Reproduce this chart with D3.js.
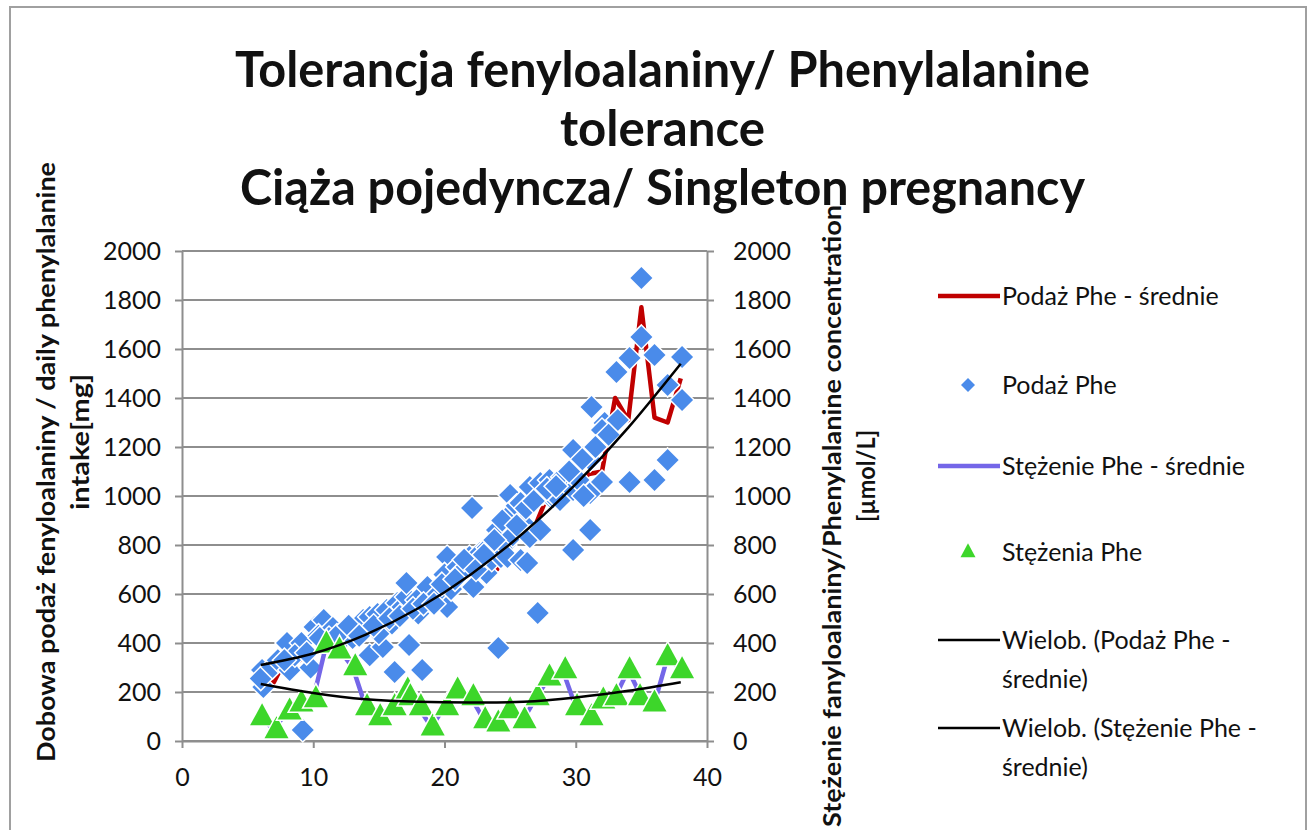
<!DOCTYPE html>
<html><head><meta charset="utf-8">
<script src="https://cdn.jsdelivr.net/npm/d3@7"></script>
<style>
body{margin:0;background:#fff}
svg{display:block}
text{font-family:Lato,"Open Sans",sans-serif;fill:#111}
</style>
</head><body>
<svg id="chart" width="1314" height="830"></svg>
<script>
// ---------- data ----------
const titleLines = ["Tolerancja fenyloalaniny/ Phenylalanine", "tolerance", "Ciąża pojedyncza/ Singleton pregnancy"];
const yTitleLeft = ["Dobowa podaż fenyloalaniny / daily phenylalanine", "intake[mg]"];
const yTitleRight = ["Stężenie fanyloalaniny/Phenylalanine concentration", "[µmol/L]"];
const xTicks = [0, 10, 20, 30, 40];
const yTicks = [0, 200, 400, 600, 800, 1000, 1200, 1400, 1600, 1800, 2000];

const weeks = [6,7,8,9,10,11,12,13,14,15,16,17,18,19,20,21,22,23,24,25,26,27,28,29,30,31,32,33,34,35,36,37,38];
const podazMean = [255,240,345,330,420,440,420,440,450,470,470,540,500,610,660,700,770,740,700,860,830,890,1020,1020,1040,1090,1100,1400,1310,1770,1320,1300,1480];
const stezMean  = [98,45,122,155,172,395,371,302,139,98,139,194,139,57,139,208,180,86,73,127,86,180,261,290,139,98,167,180,290,180,155,343,290];

const podazX = [6.1,6.2,6.0,6.9,7.3,8.0,8.2,9.1,9.2,9.8,10.1,10.8,10.4,11.5,11.2,12.3,12.0,13.3,13.0,13.8,14.3,14.3,14.9,15.3,15.6,15.0,16.4,16.8,16.2,16.0,17.1,17.1,17.3,17.9,18.3,18.0,18.9,18.7,19.5,20.2,20.2,20.0,20.5,21.0,21.3,21.9,22.1,22.2,22.7,23.2,23.3,23.6,24.0,24.1,24.3,24.6,25.0,24.8,24.8,25.2,25.5,25.8,26.0,25.8,26.3,26.5,26.5,27.3,27.3,27.1,27.5,28.0,28.0,28.3,29.0,29.3,28.8,29.8,29.8,29.8,30.2,31.2,31.1,31.1,31.1,32.2,32.0,32.0,33.1,33.2,34.1,34.1,35.0,35.0,36.0,36.0,37.0,37.0,38.1,38.1,
  8.6,10.5,11.8,12.7,13.5,14.6,15.8,16.6,17.6,18.4,19.2,19.8,20.8,21.5,22.4,23.0,23.8,24.4,25.5,26.2,26.8,27.8,28.5,29.5,30.5,31.5,32.5,30.6,9.5,7.8];
const podazY = [290,220,255,302,330,400,290,400,45,300,465,494,430,461,420,441,400,465,420,494,506,350,518,384,535,440,563,547,282,480,588,645,392,576,290,520,588,629,600,751,547,680,620,710,690,751,951,629,767,686,790,740,861,380,751,800,1004,914,751,840,960,971,890,739,727,833,1037,1053,861,522,1012,1065,1000,996,1078,1012,984,1188,780,1024,1065,1363,1147,861,1012,1298,1269,1057,1506,1310,1563,1057,1890,1649,1576,1065,1453,1147,1567,1392,
  350,420,430,470,430,470,500,510,540,560,560,640,660,740,700,760,820,900,880,950,980,1030,1040,1100,1150,1200,1250,1000,360,330];

const stezX = [6.1,7.2,8.2,9.1,10.2,11.0,12.0,13.2,14.1,15.1,16.2,17.2,17.4,18.2,19.1,20.2,21.0,22.2,23.1,24.1,25.0,26.1,27.1,28.0,29.2,30.1,31.2,32.1,33.1,34.1,34.9,36.0,37.0,38.1];
const stezY = [98,45,122,155,172,395,371,302,139,98,139,208,180,139,57,139,208,180,86,73,127,86,180,261,290,139,98,167,180,290,180,155,343,290];

const trendX = [6,10,14,18,22,26,30,34,38];
const trendPodaz = [310,357,434,542,680,849,1048,1279,1540];
const trendStez = [233,196,170,160,157,160,178,205,240];

const legendLabels = [["Podaż Phe - średnie"],["Podaż Phe"],["Stężenie Phe - średnie"],["Stężenia Phe"],["Wielob. (Podaż Phe -","średnie)"],["Wielob. (Stężenie Phe -","średnie)"]];

// ---------- drawing ----------
const svg = d3.select("#chart");
const pL = 182, pR = 707, pT = 251, pB = 741;
const RED = "#C00000", BLUE = "#4A8BEA", PURPLE = "#7466E8", GREEN = "#3DD62A", GRID = "#8e8e8e";

svg.append("rect").attr("x",10).attr("y",7).attr("width",1296).attr("height",840)
  .attr("fill","#fff").attr("stroke","#a0a0a0").attr("stroke-width",2);

const x = d3.scaleLinear().domain([0,40]).range([pL,pR]);
const y = d3.scaleLinear().domain([0,2000]).range([pB,pT]);

// title
const tLeft = [235,560,240], tW = [855,205,845], tBase = [87,146,205];
titleLines.forEach((t,i)=>{
  svg.append("text").attr("x",tLeft[i]).attr("y",tBase[i]).text(t)
    .attr("font-size",49).attr("font-weight","bold")
    .attr("textLength",tW[i]).attr("lengthAdjust","spacingAndGlyphs");
});

// gridlines
svg.append("g").selectAll("line").data(yTicks).join("line")
  .attr("x1",pL).attr("x2",pR).attr("y1",d=>y(d)).attr("y2",d=>y(d))
  .attr("stroke",GRID).attr("stroke-width",2);

// axes
function styleAxis(g){
  g.select(".domain").attr("stroke",GRID).attr("stroke-width",2);
  g.selectAll(".tick line").attr("stroke",GRID).attr("stroke-width",2);
  g.selectAll(".tick text").attr("font-size",25).attr("fill","#111").attr("font-family","Lato, sans-serif");
}
svg.append("g").attr("transform",`translate(${pL},0)`)
  .call(d3.axisLeft(y).tickValues(yTicks).tickSize(7).tickSizeOuter(0).tickPadding(14).tickFormat(d3.format("d")))
  .call(styleAxis);
svg.append("g").attr("transform",`translate(${pR},0)`)
  .call(d3.axisRight(y).tickValues(yTicks).tickSize(7).tickSizeOuter(0).tickPadding(19).tickFormat(d3.format("d")))
  .call(styleAxis);
svg.append("g").attr("transform",`translate(0,${pB})`)
  .call(d3.axisBottom(x).tickValues(xTicks).tickSize(7).tickSizeOuter(0).tickPadding(20).tickFormat(d3.format("d")))
  .call(styleAxis);

// axis titles
function vtext(cx, cy, txt, len){
  svg.append("text").attr("transform",`translate(${cx},${cy}) rotate(-90)`)
    .attr("x",-len/2).attr("y",0).attr("dy","0.36em").text(txt)
    .attr("font-size",25).attr("font-weight","bold")
    .attr("textLength",len).attr("lengthAdjust","spacingAndGlyphs");
}
vtext(46,462,yTitleLeft[0],600);
vtext(80,442,yTitleLeft[1],136);
vtext(832,516,yTitleRight[0],622);
vtext(866,476,yTitleRight[1],92);

// series
const line = d3.line().x(d=>x(d[0])).y(d=>y(d[1]));
const plot = svg.append("g");

plot.append("path").datum(weeks.map((w,i)=>[w,podazMean[i]]))
  .attr("d",line).attr("fill","none").attr("stroke",RED).attr("stroke-width",4.5).attr("stroke-linejoin","round");

const dia = r => `M0,${-r}L${r},0L0,${r}L${-r},0Z`;
const tri = (w,h) => `M0,${-h*0.62}L${w/2},${h*0.38}L${-w/2},${h*0.38}Z`;

plot.append("g").selectAll("path").data(podazX.map((v,i)=>[v,podazY[i]])).join("path")
  .attr("d",dia(11)).attr("transform",d=>`translate(${x(d[0])},${y(d[1])})`)
  .attr("fill",BLUE).attr("stroke","#fff").attr("stroke-width",3).style("paint-order","stroke");

plot.append("path").datum(weeks.map((w,i)=>[w,stezMean[i]]))
  .attr("d",line).attr("fill","none").attr("stroke",PURPLE).attr("stroke-width",4.5).attr("stroke-linejoin","round");

plot.append("g").selectAll("path").data(stezX.map((v,i)=>[v,stezY[i]])).join("path")
  .attr("d",tri(24,22)).attr("transform",d=>`translate(${x(d[0])},${y(d[1])})`)
  .attr("fill",GREEN).attr("stroke","#fff").attr("stroke-width",3).style("paint-order","stroke");

const tline = d3.line().x(d=>x(d[0])).y(d=>y(d[1])).curve(d3.curveNatural);
plot.append("path").datum(trendX.map((v,i)=>[v,trendPodaz[i]]))
  .attr("d",tline).attr("fill","none").attr("stroke","#000").attr("stroke-width",2.5);
plot.append("path").datum(trendX.map((v,i)=>[v,trendStez[i]]))
  .attr("d",tline).attr("fill","none").attr("stroke","#000").attr("stroke-width",2.5);

// legend
const legY = [296,385,466,552,640,728];
const lg = svg.append("g");
legendLabels.forEach((lines,i)=>{
  const yy = legY[i];
  if(i===0||i===2||i>=4){
    lg.append("line").attr("x1",938).attr("x2",1000).attr("y1",yy).attr("y2",yy)
      .attr("stroke", i===0?RED:(i===2?PURPLE:"#000")).attr("stroke-width", i>=4?2.5:4.5);
  } else if(i===1){
    lg.append("path").attr("d",dia(7)).attr("transform",`translate(968,${yy})`).attr("fill",BLUE);
  } else {
    lg.append("path").attr("d",tri(15,14)).attr("transform",`translate(968,${yy})`).attr("fill",GREEN);
  }
  lines.forEach((t,j)=>{
    lg.append("text").attr("x",1002).attr("y",yy+j*39).attr("dy","0.35em").text(t).attr("font-size",25);
  });
});
</script>
</body></html>
